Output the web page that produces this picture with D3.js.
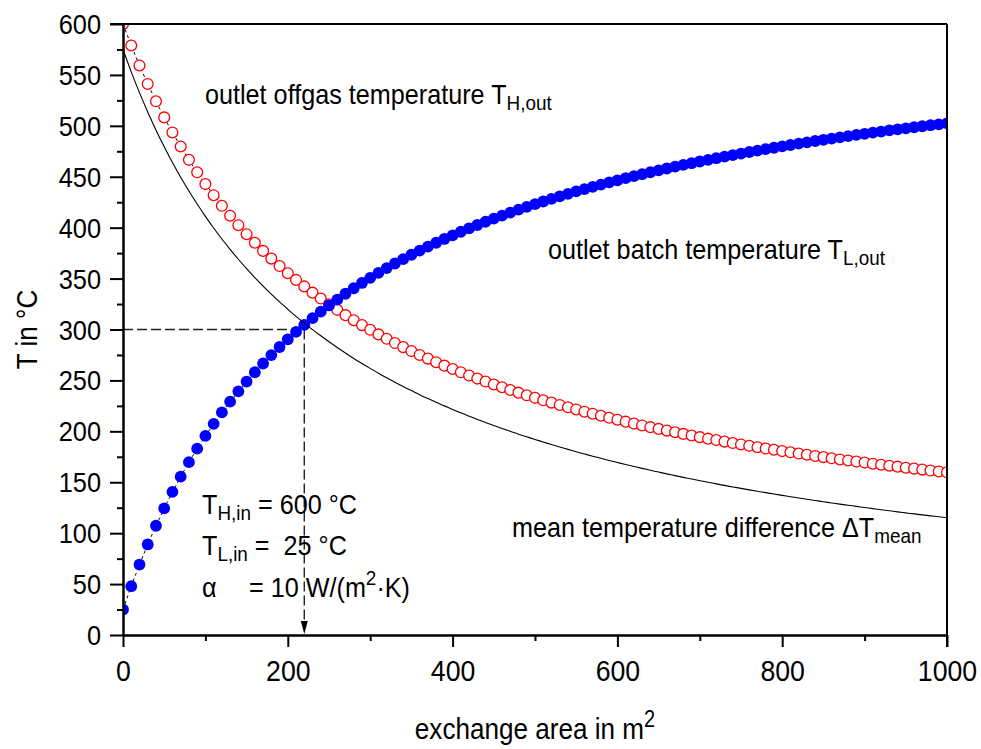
<!DOCTYPE html>
<html>
<head>
<meta charset="utf-8">
<script src="https://cdn.jsdelivr.net/npm/d3@7"></script>
<style>
  body { margin: 0; background: #fff; }
  svg text { font-family: "Liberation Sans", Arial, sans-serif; fill: #000; }
</style>
</head>
<body>
<svg id="drawing_region"></svg>
<script>
// exchange area in m2 (one marker every 10 m2)
const area = [0,10,20,30,40,50,60,70,80,90,100,110,120,130,140,150,160,170,180,190,
  200,210,220,230,240,250,260,270,280,290,300,310,320,330,340,350,360,370,380,390,
  400,410,420,430,440,450,460,470,480,490,500,510,520,530,540,550,560,570,580,590,
  600,610,620,630,640,650,660,670,680,690,700,710,720,730,740,750,760,770,780,790,
  800,810,820,830,840,850,860,870,880,890,900,910,920,930,940,950,960,970,980,990,1000];

// outlet offgas temperature T_H,out (red open circles)
const tHout = [600,578.9,559.3,541.1,524.1,508.3,493.5,479.7,466.6,454.4,
  442.8,431.9,421.5,411.7,402.4,393.6,385.2,377.2,369.6,362.3,
  355.3,348.7,342.3,336.2,330.4,324.7,319.3,314.1,309.1,304.3,
  299.7,295.2,290.9,286.7,282.7,278.8,275.0,271.4,267.9,264.5,
  261.2,258.0,254.8,251.8,248.9,246.0,243.3,240.6,238.0,235.4,
  232.9,230.5,228.2,225.9,223.6,221.5,219.3,217.3,215.3,213.3,
  211.4,209.5,207.6,205.8,204.1,202.4,200.7,199.1,197.5,195.9,
  194.3,192.8,191.4,189.9,188.5,187.1,185.8,184.4,183.1,181.9,
  180.6,179.4,178.2,177.0,175.8,174.7,173.5,172.4,171.4,170.3,
  169.3,168.2,167.2,166.2,165.3,164.3,163.4,162.4,161.5,160.6,159.8];

// outlet batch temperature T_L,out (blue filled circles)
const tLout = [25,47.9,69.2,88.9,107.3,124.4,140.5,155.5,169.7,183.0,
  195.5,207.4,218.6,229.2,239.3,248.9,258.0,266.6,274.9,282.8,
  290.4,297.6,304.5,311.1,317.5,323.6,329.4,335.1,340.5,345.7,
  350.7,355.6,360.3,364.8,369.1,373.4,377.4,381.4,385.2,388.9,
  392.5,396.0,399.4,402.6,405.8,408.9,411.9,414.8,417.7,420.4,
  423.1,425.7,428.3,430.8,433.2,435.6,437.9,440.1,442.3,444.4,
  446.5,448.6,450.6,452.5,454.4,456.3,458.1,459.9,461.6,463.3,
  465.0,466.6,468.2,469.8,471.3,472.8,474.3,475.7,477.1,478.5,
  479.9,481.2,482.5,483.8,485.1,486.3,487.5,488.7,489.9,491.1,
  492.2,493.3,494.4,495.5,496.5,497.6,498.6,499.6,500.6,501.5,502.5];

// mean temperature difference (solid black line)
const dTmean = [575,553.0,532.6,513.6,495.9,479.4,464.0,449.6,436.0,423.2,
  411.1,399.7,388.9,378.7,369.0,359.8,351.0,342.7,334.7,327.1,
  319.9,312.9,306.3,299.9,293.8,287.9,282.3,276.9,271.6,266.6,
  261.8,257.1,252.6,248.2,244.0,240.0,236.0,232.2,228.5,225.0,
  221.5,218.2,214.9,211.7,208.7,205.7,202.8,200.0,197.2,194.6,
  192.0,189.5,187.0,184.6,182.3,180.0,177.8,175.6,173.5,171.4,
  169.4,167.4,165.5,163.6,161.8,160.0,158.2,156.5,154.8,153.2,
  151.5,150.0,148.4,146.9,145.4,144.0,142.5,141.1,139.8,138.4,
  137.1,135.8,134.5,133.3,132.1,130.9,129.7,128.5,127.4,126.3,
  125.2,124.1,123.0,122.0,120.9,119.9,118.9,118.0,117.0,116.1,115.1];

const xTicks = [0, 200, 400, 600, 800, 1000];
const xMinor = [100, 300, 500, 700, 900];
const yTicks = [0, 50, 100, 150, 200, 250, 300, 350, 400, 450, 500, 550, 600];
const yMinor = [25, 75, 125, 175, 225, 275, 325, 375, 425, 475, 525, 575];
const guideArea = 220, guideTemp = 300;

const width = 981, height = 749;
const margin = { top: 24, right: 34, bottom: 114, left: 123 };
const innerW = width - margin.left - margin.right;
const innerH = height - margin.top - margin.bottom;

const svg = d3.select('#drawing_region').attr('width', width).attr('height', height);
const chart = svg.append('g').attr('transform', `translate(${margin.left},${margin.top})`);

const x = d3.scaleLinear().domain([0, 1000]).range([0, innerW]);
const y = d3.scaleLinear().domain([0, 600]).range([innerH, 0]);

const rows = area.map((a, i) => ({ a: a, h: tHout[i], l: tLout[i], m: dTmean[i] }));

chart.append('clipPath').attr('id', 'clip')
  .append('rect').attr('width', innerW).attr('height', innerH);

const plot = chart.append('g').attr('clip-path', 'url(#clip)');

// guide lines at 220 m2 / 300 °C
plot.append('line')
  .attr('x1', 0).attr('x2', x(guideArea)).attr('y1', y(guideTemp)).attr('y2', y(guideTemp))
  .attr('stroke', '#222').attr('stroke-width', 1.4).attr('stroke-dasharray', '10,4');
plot.append('line')
  .attr('x1', x(guideArea)).attr('x2', x(guideArea)).attr('y1', y(guideTemp)).attr('y2', innerH - 10)
  .attr('stroke', '#222').attr('stroke-width', 1.4).attr('stroke-dasharray', '10,4');
plot.append('path')
  .attr('d', `M${x(guideArea) - 3.5},${innerH - 14} L${x(guideArea) + 3.5},${innerH - 14} L${x(guideArea)},${innerH - 1} Z`)
  .attr('fill', '#000');

const lineH = d3.line().x(d => x(d.a)).y(d => y(d.h));
const lineL = d3.line().x(d => x(d.a)).y(d => y(d.l));
const lineM = d3.line().x(d => x(d.a)).y(d => y(d.m)).curve(d3.curveMonotoneX);

plot.append('path').attr('d', lineH(rows)).attr('fill', 'none')
  .attr('stroke', '#000').attr('stroke-width', 1).attr('stroke-dasharray', '3,3');
plot.append('path').attr('d', lineL(rows)).attr('fill', 'none')
  .attr('stroke', '#000').attr('stroke-width', 1).attr('stroke-dasharray', '3,3');

plot.selectAll('.red').data(rows).enter().append('circle')
  .attr('cx', d => x(d.a)).attr('cy', d => y(d.h)).attr('r', 5.4)
  .attr('fill', '#fff').attr('stroke', '#ff0000').attr('stroke-width', 1.3);

plot.selectAll('.blue').data(rows).enter().append('circle')
  .attr('cx', d => x(d.a)).attr('cy', d => y(d.l)).attr('r', 5.9)
  .attr('fill', '#0000ff');

plot.append('path').attr('d', lineM(rows)).attr('fill', 'none')
  .attr('stroke', '#000').attr('stroke-width', 1.1);

// axes
const xAxis = chart.append('g').attr('transform', `translate(0,${innerH})`)
  .call(d3.axisBottom(x).tickValues(xTicks).tickSize(12).tickSizeOuter(0).tickFormat(d3.format('d')));
chart.append('g').attr('transform', `translate(0,${innerH})`)
  .call(d3.axisBottom(x).tickValues(xMinor).tickSize(6).tickSizeOuter(0).tickFormat(''));
const yAxis = chart.append('g')
  .call(d3.axisLeft(y).tickValues(yTicks).tickSize(13).tickSizeOuter(0).tickFormat(d3.format('d')));
chart.append('g')
  .call(d3.axisLeft(y).tickValues(yMinor).tickSize(6).tickSizeOuter(0).tickFormat(''));

chart.selectAll('.domain, .tick line').attr('stroke', '#000').attr('stroke-width', 2);

xAxis.selectAll('text')
  .attr('x', 0).attr('y', 0).attr('dy', 0)
  .attr('transform', 'translate(0,46) scale(0.92,1)')
  .style('font-size', '29px');
yAxis.selectAll('text')
  .attr('x', 0).attr('y', 0).attr('dy', 0)
  .attr('transform', 'translate(-22,9.5) scale(0.94,1)')
  .style('font-size', '27px');

// frame (top and right)
chart.append('line').attr('x1', -13).attr('x2', innerW).attr('y1', 0).attr('y2', 0)
  .attr('stroke', '#000').attr('stroke-width', 2);
chart.append('line').attr('x1', innerW).attr('x2', innerW).attr('y1', 0).attr('y2', innerH + 12)
  .attr('stroke', '#000').attr('stroke-width', 2);

// text helper: main part, optional sub/sup parts
function label(px, py, parts, size, sx, anchor) {
  const t = svg.append('text')
    .attr('transform', `translate(${px},${py}) scale(${sx},1)`)
    .attr('text-anchor', anchor || 'start')
    .attr('xml:space', 'preserve')
    .style('white-space', 'pre')
    .style('font-size', size + 'px');
  let shift = 0;
  parts.forEach(p => {
    const s = t.append('tspan').text(p.t);
    let want = p.sub ? 6 : (p.sup ? -12 : 0);
    if (want !== shift) { s.attr('dy', want - shift); shift = want; }
    if (p.sub || p.sup) s.style('font-size', Math.round(size * 0.76) + 'px');
  });
  return t;
}

label(205, 104, [{ t: 'outlet offgas temperature T' }, { t: 'H,out', sub: true }], 28, 0.9);
label(548, 259, [{ t: 'outlet batch temperature T' }, { t: 'L,out', sub: true }], 28, 0.9);
label(512, 537, [{ t: 'mean temperature difference \u0394T' }, { t: 'mean', sub: true }], 28, 0.9);
label(202, 514, [{ t: 'T' }, { t: 'H,in', sub: true }, { t: ' = 600 °C' }], 28, 0.9);
label(202, 555, [{ t: 'T' }, { t: 'L,in', sub: true }, { t: ' =  25 °C' }], 28, 0.9);
label(202, 597, [{ t: '\u03b1' }], 28, 0.9);
label(249, 597, [{ t: '= 10 W/(m' }, { t: '2', sup: true }, { t: '\u00b7K)' }], 28, 0.9);

// axis titles
label(535, 739, [{ t: 'exchange area in m' }, { t: '2', sup: true }], 30, 0.87, 'middle');
svg.append('text')
  .attr('transform', `translate(37,${margin.top + innerH / 2}) rotate(-90) scale(0.9,1)`)
  .attr('text-anchor', 'middle')
  .style('font-size', '29px')
  .text('T in °C');
</script>
</body>
</html>
